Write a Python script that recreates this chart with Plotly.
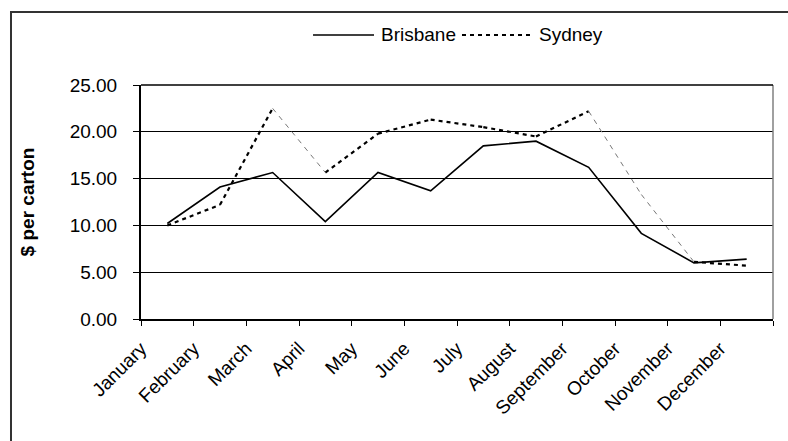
import plotly.graph_objects as go

months = ["January", "February", "March", "April", "May", "June", "July",
          "August", "September", "October", "November", "December"]
brisbane = [10.2, 14.1, 15.65, 10.4, 15.65, 13.7, 18.5, 19.0, 16.2, 9.15, 6.0, 6.4]
sydney = [10.0, 12.2, 22.5, 15.65, 19.8, 21.3, 20.5, 19.5, 22.2, 13.3, 6.1, 5.7]
y_ticks = [0, 5, 10, 15, 20, 25]

# points sit in the middle of each month slot; labels sit on the slot edges
x_mid = [i + 0.5 for i in range(len(months))]

# steep stretches of the Sydney line render as a thin grey dash
steep_starts = {2, 8, 9}  # Mar->Apr, Sep->Oct, Oct->Nov


def split_segments(vals, starts, keep_steep):
    xs, ys = [], []
    for i in range(len(vals) - 1):
        if (i in starts) == keep_steep:
            xs += [x_mid[i], x_mid[i + 1], None]
            ys += [vals[i], vals[i + 1], None]
    return xs, ys


sx_flat, sy_flat = split_segments(sydney, steep_starts, False)
sx_steep, sy_steep = split_segments(sydney, steep_starts, True)

font = "Liberation Sans, Arial, sans-serif"
solid_line = dict(color="black", width=1.6)
dotted_line = dict(color="black", width=2.2, dash="4px,4px")

fig = go.Figure()
fig.add_trace(go.Scatter(x=x_mid, y=brisbane, mode="lines", name="Brisbane",
                         line=solid_line, showlegend=False))
fig.add_trace(go.Scatter(x=sx_flat, y=sy_flat, mode="lines", name="Sydney",
                         line=dotted_line, showlegend=False))
fig.add_trace(go.Scatter(x=sx_steep, y=sy_steep, mode="lines", showlegend=False,
                         line=dict(color="#777777", width=1, dash="5px,5px")))

# legend row above the plot
leg_y = 1.2137
legend_shapes = [
    dict(type="line", xref="paper", yref="paper", x0=0.2722, x1=0.3687,
         y0=leg_y, y1=leg_y, line=solid_line),
    dict(type="line", xref="paper", yref="paper", x0=0.5079, x1=0.6203,
         y0=leg_y, y1=leg_y, line=dotted_line),
]
legend_labels = [
    dict(text="Brisbane", x=0.3766, y=leg_y),
    dict(text="Sydney", x=0.6266, y=leg_y),
]

fig.update_layout(
    width=788, height=441,
    margin=dict(l=141, r=15, t=85, b=122),
    paper_bgcolor="white", plot_bgcolor="white",
    font=dict(family=font, size=19, color="black"),
    showlegend=False,
    xaxis=dict(
        range=[0, 12],
        tickmode="array",
        tickvals=list(range(len(months) + 1)),
        ticktext=months + [""],
        tickangle=-45,
        ticks="outside", ticklen=5, tickcolor="black", tickwidth=1,
        ticklabelstandoff=4,
        showline=True, linecolor="black", linewidth=2,
        showgrid=False, zeroline=False,
        tickfont=dict(size=19),
    ),
    yaxis=dict(
        range=[0, 25],
        tickmode="array",
        tickvals=y_ticks,
        ticktext=[f"{v:.2f}" for v in y_ticks],
        ticks="outside", ticklen=6, tickcolor="black", tickwidth=1,
        ticklabelstandoff=12,
        showline=True, linecolor="black", linewidth=2,
        showgrid=True, gridcolor="black", gridwidth=1,
        zeroline=False,
        tickfont=dict(size=19),
        title=dict(text="<b>$ per carton</b>", font=dict(size=19), standoff=30),
    ),
    annotations=[
        dict(xref="paper", yref="paper", xanchor="left", yanchor="middle",
             showarrow=False, font=dict(size=19), **lab)
        for lab in legend_labels
    ],
    shapes=legend_shapes + [
        # right edge of the plot frame
        dict(type="line", xref="paper", yref="paper", x0=1, x1=1, y0=0, y1=1,
             line=dict(color="#808080", width=1.5)),
        # top edge of the plot frame
        dict(type="line", xref="paper", yref="paper", x0=0, x1=1, y0=1, y1=1,
             line=dict(color="black", width=1.5)),
        # outer chart border
        dict(type="rect", xref="paper", yref="paper",
             x0=-0.2057, x1=1.05, y0=-0.6, y1=1.312,
             line=dict(color="#333333", width=2), fillcolor="rgba(0,0,0,0)"),
    ],
)

fig.write_html("out.html")
